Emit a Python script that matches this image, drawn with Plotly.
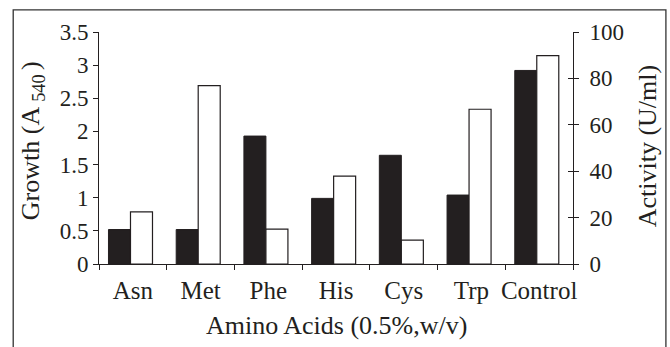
import plotly.graph_objects as go

categories = ["Asn", "Met", "Phe", "His", "Cys", "Trp", "Control"]
growth = [0.52, 0.52, 1.93, 0.99, 1.64, 1.04, 2.92]
activity = [22.5, 76.9, 15.0, 37.9, 10.3, 66.7, 89.8]
left_ticks = [0, 0.5, 1, 1.5, 2, 2.5, 3, 3.5]
left_labels = ["0", "0.5", "1", "1.5", "2", "2.5", "3", "3.5"]
right_ticks = [0, 20, 40, 60, 80, 100]

FONT = "Liberation Serif"
INK = "#231f20"

fig = go.Figure()
fig.add_trace(go.Bar(x=categories, y=growth, yaxis="y", width=0.325, offset=-0.36,
                     marker=dict(color=INK, line=dict(color=INK, width=1)), showlegend=False))
fig.add_trace(go.Bar(x=categories, y=activity, yaxis="y2", width=0.325, offset=-0.035,
                     marker=dict(color="white", line=dict(color=INK, width=1.2)), showlegend=False))

fig.update_layout(
    width=670, height=347,
    margin=dict(l=99, r=97, t=32, b=83),
    paper_bgcolor="white", plot_bgcolor="white",
    font=dict(family=FONT, color=INK, size=21),
    xaxis=dict(type="category", range=[-0.5, 6.5], tickson="boundaries",
               ticks="outside", ticklen=5, tickwidth=1, tickcolor=INK, tickangle=0,
               showline=True, linecolor=INK, linewidth=1, showgrid=False,
               tickfont=dict(family=FONT, size=25), zeroline=False, ticklabelstandoff=4),
    yaxis=dict(range=[0, 3.5], tickvals=left_ticks, ticktext=left_labels,
               ticks="outside", ticklen=5, tickwidth=1, tickcolor=INK,
               showline=True, linecolor=INK, linewidth=1, showgrid=False,
               zeroline=False, tickfont=dict(family=FONT, size=23)),
    yaxis2=dict(range=[0, 100], tickvals=right_ticks, overlaying="y", side="right",
                ticks="outside", ticklen=5, tickwidth=1, tickcolor=INK,
                showline=True, linecolor=INK, linewidth=1, showgrid=False,
                zeroline=False, tickfont=dict(family=FONT, size=23), ticklabelstandoff=6),
    yaxis3=dict(range=[0, 100], tickvals=right_ticks, overlaying="y", side="right",
                ticks="inside", ticklen=5, tickwidth=1, tickcolor=INK,
                showticklabels=False, showline=False, showgrid=False, zeroline=False),
)
# invisible trace to activate yaxis3
fig.add_trace(go.Scatter(x=categories, y=activity, yaxis="y3", mode="markers",
                         marker=dict(opacity=0), showlegend=False, hoverinfo="skip"))

fig.add_annotation(text="Growth (A <sub>540 </sub>)", textangle=-90, x=-0.141, y=0.53,
                   xanchor="center", yanchor="middle",
                   xref="paper", yref="paper", showarrow=False, font=dict(family=FONT, size=26))
fig.add_annotation(text="Activity (U/ml)", textangle=-90, x=1.157, y=0.509,
                   xanchor="center", yanchor="middle",
                   xref="paper", yref="paper", showarrow=False, font=dict(family=FONT, size=26))
fig.add_annotation(text="Amino Acids (0.5%,w/v)", x=0.5, y=-0.263,
                   xanchor="center", yanchor="middle",
                   xref="paper", yref="paper", showarrow=False, font=dict(family=FONT, size=26))

fig.add_shape(type="rect", xref="paper", yref="paper", x0=-0.181, x1=1.196, y0=-0.6, y1=1.095,
              line=dict(color="#333333", width=1.3), fillcolor="rgba(0,0,0,0)", layer="below")

fig.write_html("out.html")
